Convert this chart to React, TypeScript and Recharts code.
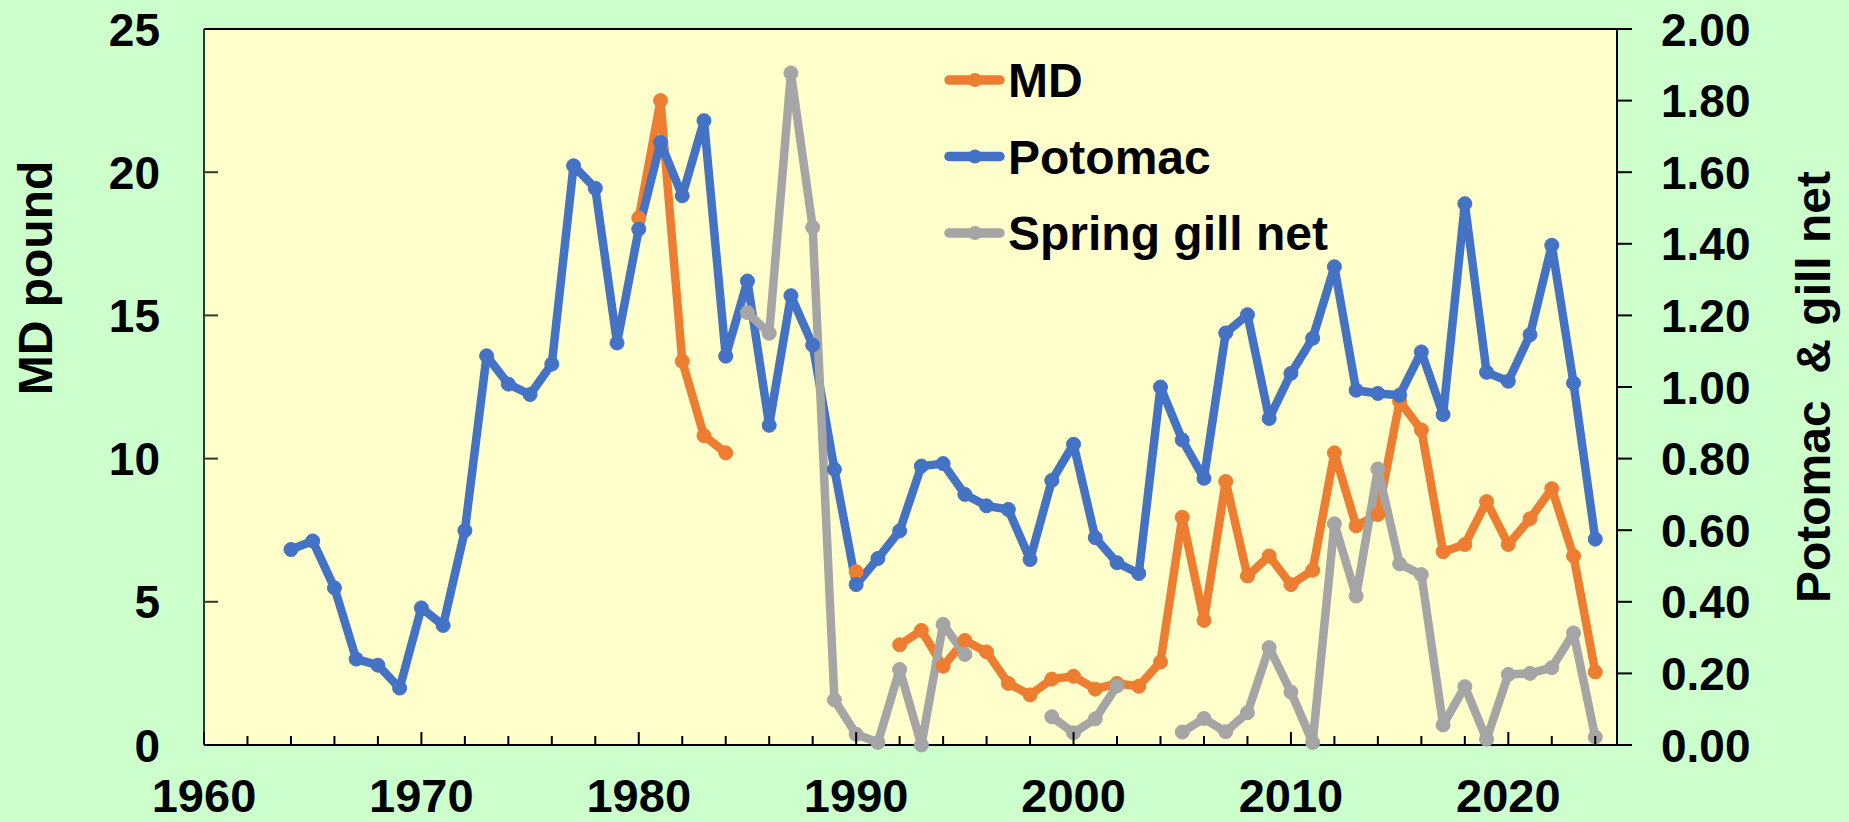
import React from 'react';
import { LineChart, Line, XAxis, YAxis, CartesianGrid, Legend, ReferenceLine, Label } from 'recharts';

const years = [
  1964, 1965, 1966, 1967, 1968, 1969, 1970, 1971, 1972, 1973, 1974, 1975, 1976, 1977, 1978, 1979,
  1980, 1981, 1982, 1983, 1984, 1985, 1986, 1987, 1988, 1989, 1990, 1991, 1992, 1993, 1994, 1995,
  1996, 1997, 1998, 1999, 2000, 2001, 2002, 2003, 2004, 2005, 2006, 2007, 2008, 2009, 2010, 2011,
  2012, 2013, 2014, 2015, 2016, 2017, 2018, 2019, 2020, 2021, 2022, 2023, 2024,
];

const mdPound: (number | null)[] = [
  null, null, null, null, null, null, null, null, null, null, null, null, null, null, null, null,
  18.4, 22.5, 13.4, 10.8, 10.2, null, null, null, null, null, 6.05, null, 3.5, 4.0, 2.75, 3.65,
  3.25, 2.15, 1.75, 2.3, 2.4, 1.95, 2.15, 2.05, 2.9, 7.95, 4.35, 9.2, 5.9, 6.6, 5.6, 6.1,
  10.2, 7.65, 8.05, 12.0, 11.0, 6.75, 7.0, 8.5, 7.0, 7.9, 8.95, 6.6, 2.55,
];

const potomac: (number | null)[] = [
  0.546, 0.570, 0.439, 0.240, 0.223, 0.159, 0.383, 0.334, 0.599, 1.087, 1.008, 0.979, 1.064, 1.618, 1.555, 1.123,
  1.441, 1.683, 1.534, 1.744, 1.086, 1.296, 0.893, 1.255, 1.117, 0.770, 0.448, 0.521, 0.598, 0.779, 0.786, 0.700,
  0.668, 0.658, 0.518, 0.739, 0.840, 0.579, 0.509, 0.479, 1.000, 0.852, 0.745, 1.151, 1.202, 0.912, 1.038, 1.136,
  1.336, 0.991, 0.982, 0.977, 1.098, 0.923, 1.512, 1.041, 1.016, 1.146, 1.396, 1.011, 0.575,
];

const gillNet: (number | null)[] = [
  null, null, null, null, null, null, null, null, null, null, null, null, null, null, null, null,
  null, null, null, null, null, 1.208, 1.15, 1.877, 1.446, 0.126, 0.03, 0.007, 0.211, 0.0, 0.337, 0.253,
  null, null, null, 0.079, 0.034, 0.073, 0.165, null, null, 0.036, 0.074, 0.037, 0.09, 0.272, 0.148, 0.007,
  0.618, 0.416, 0.771, 0.506, 0.476, 0.056, 0.163, 0.016, 0.197, 0.2, 0.216, 0.313, 0.022,
];

const xTicks = [
  1960, 1962, 1964, 1966, 1968, 1970, 1972, 1974, 1976, 1978, 1980, 1982, 1984, 1986, 1988, 1990,
  1992, 1994, 1996, 1998, 2000, 2002, 2004, 2006, 2008, 2010, 2012, 2014, 2016, 2018, 2020, 2022, 2024,
];
const leftTicks = [0, 5, 10, 15, 20, 25];
const rightTicks = [0, 0.2, 0.4, 0.6, 0.8, 1.0, 1.2, 1.4, 1.6, 1.8, 2.0];

const seriesNames = ['MD', 'Potomac', 'Spring gill net'];
const leftTitle = 'MD pound';
const rightTitle = 'Potomac  & gill net';

const data = years.map((y, i) => ({
  year: y,
  md: mdPound[i],
  potomac: potomac[i],
  gill: gillNet[i],
}));

const FONT = '"Liberation Sans", Arial, Helvetica, sans-serif';
const ORANGE = '#ED7D31';
const BLUE = '#4472C4';
const GRAY = '#A5A5A5';
const LINE_W = 8.5;
const DOT_R = 7;

const XTick = (props: any) => {
  const { x, y, payload } = props;
  const v = payload.value as number;
  const major = v % 10 === 0;
  return (
    <g>
      <line x1={x} x2={x} y1={y} y2={y - (major ? 13 : 9)} stroke="#000" strokeWidth={2} />
      {major && (
        <text x={x} y={y + 67} textAnchor="middle" fontFamily={FONT} fontWeight="bold" fontSize={47} fill="#000">
          {v}
        </text>
      )}
    </g>
  );
};

const LeftTick = (props: any) => {
  const { x, y, payload } = props;
  const v = payload.value as number;
  return (
    <g>
      {v > 0 && v < 25 && <line x1={x} x2={x + 14} y1={y} y2={y} stroke="#2F3A2A" strokeWidth={2} />}
      <text x={x - 44} y={y + 16.5} textAnchor="end" fontFamily={FONT} fontWeight="bold" fontSize={46} fill="#000">
        {v}
      </text>
    </g>
  );
};

const RightTick = (props: any) => {
  const { x, y, payload } = props;
  const v = payload.value as number;
  return (
    <g>
      <line x1={x} x2={x + 15} y1={y} y2={y} stroke="#000" strokeWidth={2} />
      <text x={x + 44} y={y + 16.5} textAnchor="start" fontFamily={FONT} fontWeight="bold" fontSize={46} fill="#000">
        {v.toFixed(2)}
      </text>
    </g>
  );
};

const LeftTitle = (props: any) => {
  const vb = props.viewBox || { x: 0, y: 29 };
  const tx = vb.x + 52;
  const ty = vb.y + 249;
  return (
    <text x={tx} y={ty} transform={`rotate(-90 ${tx} ${ty})`} textAnchor="middle" fontFamily={FONT} fontWeight="bold" fontSize={48} fill="#000">
      {leftTitle}
    </text>
  );
};

const RightTitle = (props: any) => {
  const vb = props.viewBox || { x: 1617, y: 29, height: 716 };
  const tx = vb.x + 213;
  const ty = vb.y + vb.height / 2;
  return (
    <text x={tx} y={ty} transform={`rotate(-90 ${tx} ${ty})`} textAnchor="middle" fontFamily={FONT} fontWeight="bold" fontSize={48} fill="#000" style={{ whiteSpace: 'pre' }}>
      {rightTitle}
    </text>
  );
};

const LegendContent = (props: any) => {
  const payload = props.payload || [];
  const colors = [ORANGE, BLUE, GRAY];
  const items = seriesNames.map((n, i) => {
    const p = payload.find((q: any) => q.value === n);
    return { name: n, color: p ? p.color : colors[i] };
  });
  return (
    <svg width={420} height={230} style={{ overflow: 'visible' }}>
      {items.map((it, i) => {
        const cy = 40 + i * 76.5;
        return (
          <g key={it.name}>
            <line x1={23} x2={74} y1={cy} y2={cy} stroke={it.color} strokeWidth={9.5} strokeLinecap="round" />
            <circle cx={49} cy={cy} r={7} fill={it.color} />
            <text x={82} y={cy + 17} fontFamily={FONT} fontWeight="bold" fontSize={48} fill="#000">
              {it.name}
            </text>
          </g>
        );
      })}
    </svg>
  );
};

export default function App() {
  return (
    <div style={{ position: 'absolute', left: 0, top: 0, width: 1849, height: 822, background: '#CCFFCC', overflow: 'hidden' }}>
      <LineChart width={1849} height={822} data={data} margin={{ top: 29, right: 0, bottom: 0, left: 0 }}>
        <CartesianGrid fill="#FFFFCC" horizontal={false} vertical={false} yAxisId="left" />
        <XAxis
          dataKey="year"
          type="number"
          domain={[1960, 2025]}
          ticks={xTicks}
          interval={0}
          height={77}
          tickSize={0}
          tickMargin={0}
          tickLine={false}
          axisLine={{ stroke: '#000', strokeWidth: 2 }}
          tick={<XTick />}
          allowDataOverflow
        />
        <YAxis
          yAxisId="left"
          orientation="left"
          domain={[0, 25]}
          ticks={leftTicks}
          interval={0}
          width={204}
          tickSize={0}
          tickMargin={0}
          tickLine={false}
          axisLine={{ stroke: '#2F3A2A', strokeWidth: 2 }}
          tick={<LeftTick />}
        >
          <Label content={<LeftTitle />} />
        </YAxis>
        <YAxis
          yAxisId="right"
          orientation="right"
          domain={[0, 2]}
          ticks={rightTicks}
          interval={0}
          width={232}
          tickSize={0}
          tickMargin={0}
          tickLine={false}
          axisLine={{ stroke: '#000', strokeWidth: 2 }}
          tick={<RightTick />}
        >
          <Label content={<RightTitle />} />
        </YAxis>
        <ReferenceLine yAxisId="left" y={25} stroke="#000" strokeWidth={2} />
        <Legend
          layout="vertical"
          align="center"
          verticalAlign="middle"
          content={<LegendContent />}
          wrapperStyle={{ left: 926, top: 40, width: 420, height: 230 }}
        />
        <Line
          yAxisId="left"
          dataKey="md"
          name={seriesNames[0]}
          stroke={ORANGE}
          strokeWidth={LINE_W}
          strokeLinejoin="round"
          dot={{ r: DOT_R, fill: ORANGE, stroke: ORANGE, strokeWidth: 1 }}
          connectNulls={false}
          isAnimationActive={false}
        />
        <Line
          yAxisId="right"
          dataKey="potomac"
          name={seriesNames[1]}
          stroke={BLUE}
          strokeWidth={LINE_W}
          strokeLinejoin="round"
          dot={{ r: DOT_R, fill: BLUE, stroke: BLUE, strokeWidth: 1 }}
          connectNulls={false}
          isAnimationActive={false}
        />
        <Line
          yAxisId="right"
          dataKey="gill"
          name={seriesNames[2]}
          stroke={GRAY}
          strokeWidth={LINE_W}
          strokeLinejoin="round"
          dot={{ r: DOT_R, fill: GRAY, stroke: GRAY, strokeWidth: 1 }}
          connectNulls={false}
          isAnimationActive={false}
        />
      </LineChart>
    </div>
  );
}
